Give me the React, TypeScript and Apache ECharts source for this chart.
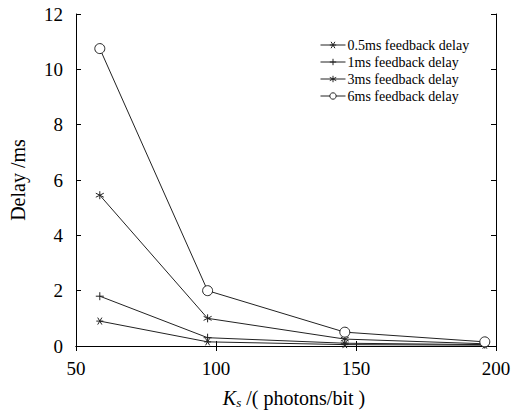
import React, { useEffect, useRef } from "react";
import * as echarts from "echarts";

const ksValues = [58.5, 97, 146, 196];
const seriesNames = [
  "0.5ms feedback delay",
  "1ms feedback delay",
  "3ms feedback delay",
  "6ms feedback delay",
];
const delay05 = [0.9, 0.15, 0.05, 0.03];
const delay1 = [1.8, 0.3, 0.1, 0.05];
const delay3 = [5.45, 1.0, 0.25, 0.08];
const delay6 = [10.75, 2.0, 0.5, 0.15];

const FONT = "Times New Roman";

const symbols = [
  "path://M-5,0L5,0M-3,-4L3,4M-3,4L3,-4",
  "path://M0,-5L0,5M-5,0L5,0",
  "path://M0,-5L0,5M-4.3,-2.5L4.3,2.5M-4.3,2.5L4.3,-2.5",
  "circle",
];
const symbolSizes = [7, 8, 8, 10];

export default function App() {
  const ref = useRef<HTMLDivElement>(null);
  useEffect(() => {
    if (!ref.current) return;
    const chart = echarts.init(ref.current, null, { renderer: "svg" });
    const datasets = [delay05, delay1, delay3, delay6];
    const axisCommon = {
      axisLine: { show: true, lineStyle: { color: "#000", width: 1 } },
      axisTick: { show: true, inside: true, length: 5, lineStyle: { color: "#000" } },
      splitLine: { show: false },
    };
    const ts = (size: number, extra: any = {}) => ({
      fontFamily: FONT,
      fontSize: size,
      color: "#000",
      ...extra,
    });
    chart.setOption({
      animation: false,
      backgroundColor: "#fff",
      textStyle: { fontFamily: FONT },
      grid: { left: 73, right: 27, top: 14, bottom: 64, containLabel: false },
      legend: {
        orient: "vertical",
        left: 315,
        top: 33,
        itemGap: 3,
        itemWidth: 25,
        itemHeight: 8,
        lineStyle: { width: 1 },
        itemStyle: { borderWidth: 1 },
        textStyle: ts(14, { padding: [0, 0, 0, -3] }),
        data: seriesNames,
      },
      xAxis: [
        {
          type: "value",
          min: 50,
          max: 200,
          interval: 50,
          name: "{i|K}{s|s}{n| /( photons/bit )}",
          nameLocation: "middle",
          nameGap: 40,
          nameTextStyle: {
            ...ts(20),
            padding: [0, 0, 0, 16],
            rich: {
              i: ts(20, { fontStyle: "italic" }),
              s: ts(13, { fontStyle: "italic", padding: [10, 0, 0, 0] }),
              n: ts(20),
            },
          },
          axisLabel: ts(19, { margin: 13 }),
          ...axisCommon,
        },
        {
          type: "value",
          position: "top",
          min: 50,
          max: 200,
          interval: 50,
          axisLabel: { show: false },
          ...axisCommon,
        },
      ],
      yAxis: [
        {
          type: "value",
          min: 0,
          max: 12,
          interval: 2,
          name: "Delay /ms",
          nameLocation: "middle",
          nameGap: 48,
          nameTextStyle: ts(20),
          axisLabel: ts(19, { margin: 13 }),
          ...axisCommon,
        },
        {
          type: "value",
          position: "right",
          min: 0,
          max: 12,
          interval: 2,
          axisLabel: { show: false },
          ...axisCommon,
        },
      ],
      series: datasets.map((d, i) => ({
        name: seriesNames[i],
        type: "line",
        xAxisIndex: 0,
        yAxisIndex: 0,
        data: d.map((v, j) => [ksValues[j], v]),
        symbol: symbols[i],
        symbolSize: symbolSizes[i],
        showSymbol: true,
        lineStyle: { color: "#222", width: 1 },
        itemStyle: {
          color: i === 3 ? "#fff" : "none",
          borderColor: "#222",
          borderWidth: 1,
        },
      })),
    });
    return () => chart.dispose();
  }, []);
  return (
    <div
      ref={ref}
      style={{ position: "fixed", left: 0, top: 0, width: 523, height: 414 }}
    />
  );
}
